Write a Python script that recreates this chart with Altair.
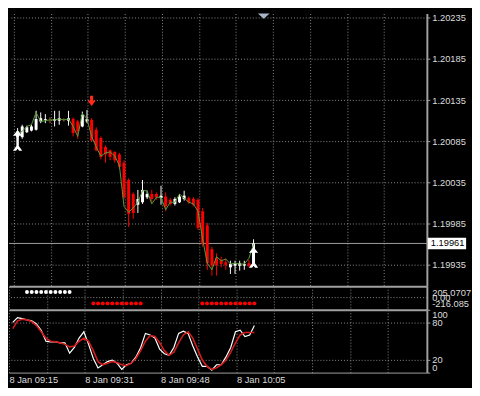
import json
import altair as alt
import pandas as pd

# ---------------- data ----------------
bar_index = list(range(52))
open_prices = [1.20090, 1.20090, 1.20096, 1.20098, 1.20099, 1.20109, 1.20111, 1.20111, 1.20110, 1.20110,
               1.20111, 1.20110, 1.20112, 1.20109, 1.20103, 1.20109, 1.20111, 1.20099, 1.20089, 1.20078,
               1.20074, 1.20072, 1.20069, 1.20059, 1.20038, 1.20021, 1.20008, 1.20011, 1.20017, 1.20021,
               1.20021, 1.20016, 1.20018, 1.20014, 1.20009, 1.20011, 1.20015, 1.20016, 1.20015, 1.20014,
               1.20000, 1.19983, 1.19954, 1.19943, 1.19941, 1.19938, 1.19932, 1.19934, 1.19934, 1.19934,
               1.19937, 1.19935]
high_prices = [1.20101, 1.20105, 1.20104, 1.20105, 1.20122, 1.20120, 1.20118, 1.20114, 1.20122, 1.20122,
               1.20113, 1.20122, 1.20114, 1.20111, 1.20121, 1.20123, 1.20113, 1.20102, 1.20091, 1.20080,
               1.20075, 1.20073, 1.20071, 1.20062, 1.20040, 1.20023, 1.20026, 1.20038, 1.20025, 1.20026,
               1.20023, 1.20031, 1.20023, 1.20016, 1.20017, 1.20021, 1.20025, 1.20018, 1.20017, 1.20016,
               1.20004, 1.19986, 1.19957, 1.19949, 1.19945, 1.19943, 1.19940, 1.19940, 1.19940, 1.19940,
               1.19941, 1.19966]
low_prices = [1.20088, 1.20088, 1.20095, 1.20097, 1.20098, 1.20107, 1.20107, 1.20107, 1.20103, 1.20105,
              1.20109, 1.20104, 1.20091, 1.20088, 1.20102, 1.20107, 1.20085, 1.20073, 1.20063, 1.20059,
              1.20062, 1.20059, 1.20051, 1.20015, 1.19981, 1.19991, 1.19998, 1.20009, 1.20015, 1.20011,
              1.20014, 1.20008, 1.20000, 1.20007, 1.20007, 1.20010, 1.20013, 1.20009, 1.20006, 1.19977,
              1.19957, 1.19929, 1.19922, 1.19922, 1.19932, 1.19929, 1.19924, 1.19924, 1.19928, 1.19929,
              1.19932, 1.19934]
close_prices = [1.20097, 1.20103, 1.20102, 1.20103, 1.20112, 1.20113, 1.20112, 1.20111, 1.20112, 1.20113,
                1.20111, 1.20113, 1.20095, 1.20097, 1.20117, 1.20112, 1.20086, 1.20074, 1.20066, 1.20069,
                1.20066, 1.20062, 1.20054, 1.20017, 1.19997, 1.19998, 1.20015, 1.20026, 1.20021, 1.20015,
                1.20017, 1.20019, 1.20006, 1.20009, 1.20015, 1.20018, 1.20019, 1.20011, 1.20008, 1.19980,
                1.19960, 1.19937, 1.19934, 1.19935, 1.19936, 1.19935, 1.19936, 1.19937, 1.19937, 1.19936,
                1.19934, 1.19961]
ma_values = [1.20094, 1.20097, 1.20103, 1.20105, 1.20120, 1.20109, 1.20110, 1.20111, 1.20111, 1.20112,
             1.20111, 1.20112, 1.20103, 1.20091, 1.20119, 1.20112, 1.20091, 1.20078, 1.20067, 1.20071,
             1.20072, 1.20067, 1.20056, 1.20006, 1.19999, 1.20004, 1.20011, 1.20025, 1.20025, 1.20009,
             1.20017, 1.20017, 1.20002, 1.20011, 1.20011, 1.20021, 1.20016, 1.20011, 1.20009, 1.20000,
             1.19966, 1.19937, 1.19929, 1.19945, 1.19940, 1.19942, 1.19936, 1.19937, 1.19936, 1.19936,
             1.19943, 1.19960]
stoch_main = [80, 87.5, 86, 84, 82.5, 77.5, 67.5, 50, 49, 49, 47.5, 47.5, 31, 40, 55, 65, 45, 22.5, 7.5, 12.5,
              17.5, 20, 15, 5, 12.5, 15, 25, 40, 62.5, 60, 55, 37.5, 30, 27.5, 40, 62.5, 66, 62.5, 42.5, 25,
              10, 10, 4, 12.5, 12.5, 25, 40, 65, 67.5, 57.5, 60, 75]
stoch_signal = [70, 82.5, 85, 84, 81, 75, 65, 55, 50, 49, 47.5, 45, 41, 42.5, 50, 55, 50, 35, 17.5, 12.5,
                15, 17.5, 16, 12.5, 11, 15, 22.5, 35, 50, 59, 57.5, 47.5, 35, 27.5, 32.5, 47.5, 60, 65, 55, 37.5,
                20, 10, 5, 7.5, 12.5, 20, 32.5, 47.5, 60, 64, 64, 64]

white_dot_bars = [3, 4, 5, 6, 7, 8, 9, 10, 11, 12]
orange_dot_bars = [17, 18, 19, 20, 21, 22, 23, 24, 25, 26, 27,
                   40, 41, 42, 43, 44, 45, 46, 47, 48, 49, 50, 51]
osc_upper = 205.0707
osc_lower = -216.085

sell_arrow_bars = [16]
sell_arrow_prices = [1.20134]
buy_arrow_bars = [0, 51]
buy_arrow_prices = [1.20086, 1.19944]
current_price = [1.19961]
current_price_text = ["1.19961"]
shift_marker_bar = [53.2]
shift_marker_price = [1.20240]

price_ticks = [1.20235, 1.20185, 1.20135, 1.20085, 1.20035, 1.19985, 1.19935]
time_grid = [-0.8, 7.2, 15.2, 23.2, 31.2, 39.2, 47.2, 55.2, 63.2, 71.2, 79.2]
time_text = ["8 Jan 09:15", "", "8 Jan 09:31", "", "8 Jan 09:48", "", "8 Jan 10:05", "", "", "", ""]
osc_ticks = [205.0707, 0, -216.085]
osc_text = ["205.0707", "0.00", "-216.085"]
stoch_ticks = [100, 80, 20, 0]

# ---------------- style ----------------
W = 426
H1, H2, H3 = 278, 24, 64
FONT = "Liberation Sans"
FS = 9.5
GRID = "#8c8c8c"
LABEL = "#dcdcdc"
BORDER = "#a0a0a0"
GREEN = "#5a9a3a"

candles = pd.DataFrame({
    "bar": bar_index, "open": open_prices, "high": high_prices,
    "low": low_prices, "close": close_prices, "ma": ma_values,
})
candles["dir"] = ["up" if c > o else ("down" if c < o else "flat")
                  for o, c in zip(open_prices, close_prices)]

stoch = pd.DataFrame({"bar": bar_index, "main": stoch_main, "signal": stoch_signal})

dots = pd.DataFrame({
    "bar": white_dot_bars + orange_dot_bars,
    "val": [osc_upper] * len(white_dot_bars) + [osc_lower] * len(orange_dot_bars),
    "grp": ["hi"] * len(white_dot_bars) + ["lo"] * len(orange_dot_bars),
})

sell_df = pd.DataFrame({"bar": sell_arrow_bars, "price": sell_arrow_prices})
buy_df = pd.DataFrame({"bar": buy_arrow_bars, "price": buy_arrow_prices})
cur_df = pd.DataFrame({"price": current_price, "label": current_price_text})
shift_df = pd.DataFrame({"bar": shift_marker_bar, "price": shift_marker_price})
zero_df = pd.DataFrame({"bar": [-0.8], "v": [0]})

xs = alt.Scale(domain=[-0.8, 87.4], nice=False, zero=False)
ys = alt.Scale(domain=[1.19909, 1.20240], nice=False, zero=False)
cscale = alt.Scale(domain=["up", "down", "flat"], range=["#ffffff", "#ff0000", "#c0602a"])

time_expr = "%s[indexof(%s, datum.value)]" % (json.dumps(time_text), json.dumps(time_grid))
osc_expr = "%s[indexof(%s, datum.value)]" % (json.dumps(osc_text), json.dumps(osc_ticks))


def x_axis(show_labels, dw):
    kw = dict(values=time_grid, grid=True, ticks=False, domain=True, domainWidth=dw,
              labels=show_labels, title=None, labelFlush=False)
    if show_labels:
        kw.update(labelExpr=time_expr, labelAlign="left", labelPadding=2,
                  labelOverlap=False, labelBaseline="top")
    return alt.Axis(**kw)


# ---------------- main price panel ----------------
X_MAIN_AXIS = x_axis(False, 2)
PRICE_AXIS = alt.Axis(orient="right", values=price_ticks, format=".5f", grid=True,
                      ticks=True, tickSize=3, domainWidth=2, labelPadding=2,
                      labelOverlap=False, title=None)


def XM():
    return alt.X("bar:Q", scale=xs, axis=X_MAIN_AXIS)


def YM(field):
    return alt.Y(field, scale=ys, axis=PRICE_AXIS)


price_rule = alt.Chart(cur_df).mark_rule(color=BORDER, strokeWidth=1).encode(y=YM("price:Q"))

wicks = alt.Chart(candles).mark_rule(strokeWidth=1).encode(
    x=XM(), y=YM("low:Q"), y2="high:Q",
    color=alt.Color("dir:N", scale=cscale, legend=None))

bodies = alt.Chart(candles).mark_bar(size=3).encode(
    x=XM(), y=YM("open:Q"), y2="close:Q",
    color=alt.Color("dir:N", scale=cscale, legend=None))

ma_line = alt.Chart(candles).mark_line(color=GREEN, strokeWidth=1).encode(x=XM(), y=YM("ma:Q"))

DOWN_PATH = "M-0.3,-1 L0.3,-1 L0.3,-0.1 L0.8,-0.1 L0,1 L-0.8,-0.1 L-0.3,-0.1 Z"
UP_PATH = ("M0,-1 L0.45,-0.45 L0.12,-0.45 L0.12,0.55 L0.45,1 L0.15,1 L0,0.8 "
           "L-0.15,1 L-0.45,1 L-0.12,0.55 L-0.12,-0.45 L-0.45,-0.45 Z")
TRI_PATH = "M-1,0 L1,0 L0,0.9 Z"
BOX_PATH = "M-1,-0.3 L1,-0.3 L1,0.3 L-1,0.3 Z"

sell = alt.Chart(sell_df).mark_point(shape=DOWN_PATH, filled=True, size=110, color="#ff2a1a",
                                     opacity=1, strokeWidth=0).encode(x=XM(), y=YM("price:Q"))

buy = alt.Chart(buy_df).mark_point(shape=UP_PATH, filled=True, size=440, color="#ffffff",
                                   opacity=1, strokeWidth=0).encode(x=XM(), y=YM("price:Q"))

shift = alt.Chart(shift_df).mark_point(shape=TRI_PATH, filled=True, size=144, color="#aab4c8",
                                       opacity=1, strokeWidth=0).encode(x=XM(), y=YM("price:Q"))

tag_box = alt.Chart(cur_df).mark_point(shape=BOX_PATH, filled=True, size=1521, color="#ffffff",
                                       opacity=1, strokeWidth=0).encode(
    x=alt.value(W + 20.5), y=YM("price:Q"))

tag_text = alt.Chart(cur_df).mark_text(align="left", baseline="middle", color="#000000",
                                       font=FONT, fontSize=FS).encode(
    x=alt.value(W + 4), y=YM("price:Q"), text="label:N")

main = alt.layer(price_rule, wicks, bodies, ma_line, sell, buy, shift, tag_box, tag_text).properties(
    width=W, height=H1)

# ---------------- oscillator dots panel ----------------
X_OSC_AXIS = x_axis(False, 2)
osc_scale = alt.Scale(domain=[-456, 421], nice=False, zero=False)
OSC_AXIS = alt.Axis(orient="right", values=osc_ticks, labelExpr=osc_expr, grid=False, ticks=False,
                    domainWidth=2, labelPadding=5, labelOverlap=False, title=None)

zero_rule = alt.Chart(zero_df).mark_rule(color=GRID, strokeDash=[1, 2], strokeWidth=1).encode(
    y=alt.Y("v:Q", scale=osc_scale, axis=OSC_AXIS))

dot_marks = alt.Chart(dots).mark_circle(size=16, opacity=1).encode(
    x=alt.X("bar:Q", scale=xs, axis=X_OSC_AXIS),
    y=alt.Y("val:Q", scale=osc_scale, axis=OSC_AXIS),
    color=alt.Color("grp:N", scale=alt.Scale(domain=["hi", "lo"], range=["#ffffff", "#ff5a1e"]),
                    legend=None))

osc = alt.layer(zero_rule, dot_marks).properties(width=W, height=H2)

# ---------------- stochastic panel ----------------
X_ST_AXIS = x_axis(True, 1)
st_scale = alt.Scale(domain=[0, 100], nice=False, zero=False)
ST_AXIS = alt.Axis(orient="right", values=stoch_ticks, grid=True,
                   gridOpacity={"condition": {"test": "datum.value == 100 || datum.value == 0", "value": 0},
                                "value": 1},
                   ticks=True, tickSize=3, domainWidth=2, labelPadding=2, labelFlush=True,
                   labelOverlap=False, title=None)

st_sig = alt.Chart(stoch).mark_line(color="#d41c1c", strokeWidth=1.6).encode(
    x=alt.X("bar:Q", scale=xs, axis=X_ST_AXIS),
    y=alt.Y("signal:Q", scale=st_scale, axis=ST_AXIS))

st_main = alt.Chart(stoch).mark_line(color="#ffffff", strokeWidth=1.2).encode(
    x=alt.X("bar:Q", scale=xs, axis=X_ST_AXIS),
    y=alt.Y("main:Q", scale=st_scale, axis=ST_AXIS))

sto = alt.layer(st_main, st_sig).properties(width=W, height=H3)

chart = alt.VConcatChart(
    vconcat=[main, osc, sto], spacing=0, bounds="flush", padding=0, background="#000000"
).configure_view(stroke="transparent").configure_axis(
    labelFont=FONT, labelFontSize=FS, labelColor=LABEL,
    domainColor=BORDER, tickColor=BORDER, gridColor=GRID, gridDash=[1, 2], gridWidth=1,
)

chart.save("out.html", embed_options={"renderer": "svg", "actions": False})
